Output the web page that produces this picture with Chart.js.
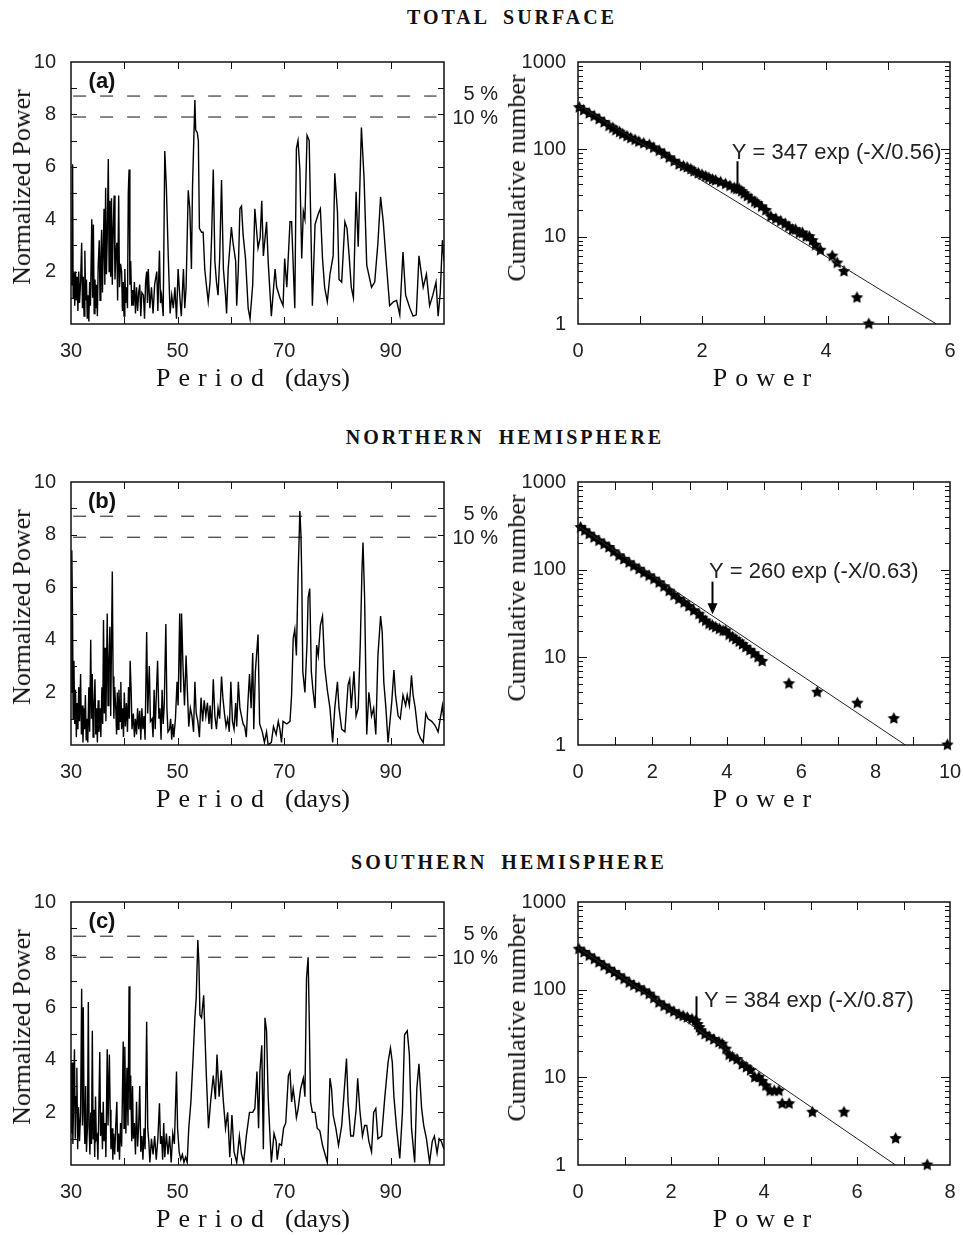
<!DOCTYPE html>
<html>
<head>
<meta charset="utf-8">
<script src="https://cdn.jsdelivr.net/npm/chart.js@4.4.0/dist/chart.umd.min.js"></script>
<style>
html, body { margin: 0; padding: 0; background: #fff; overflow: hidden; }
#page { position: relative; width: 963px; height: 1235px; overflow: hidden; background: #fff; }
canvas { position: absolute; }
.txt { position: absolute; white-space: nowrap; color: #111; transform: translate(-50%, -50%); }
.head { font: bold 20px 'Liberation Serif', 'Times New Roman', serif; letter-spacing: 3px; word-spacing: 6px; }
.ytit { font: 26px 'Liberation Serif', 'Times New Roman', serif; transform: translate(-50%, -50%) rotate(-90deg); }
.xtit { font: 26px 'Liberation Serif', 'Times New Roman', serif; }
.sp { letter-spacing: 8px; }
.tag { font: bold 22px 'Liberation Sans', Arial, sans-serif; }
</style>
</head>
<body>
<div id="page"></div>
<script>
// periodograms: [period (days), normalized power]
const specA = [[30.0,1.5],[30.15,2.4],[30.3,6.1],[30.4,1.0],[30.55,2.0],[30.7,0.7],[30.85,2.0],[31.0,0.9],[31.15,1.8],[31.3,0.5],[31.45,2.0],[31.6,0.8],[31.8,1.6],[32.0,3.1],[32.15,0.6],[32.3,1.8],[32.45,0.3],[32.6,2.8],[32.75,0.9],[32.9,1.7],[33.05,0.2],[33.2,1.1],[33.35,0.1],[33.5,1.6],[33.65,0.7],[33.9,4.0],[34.05,1.0],[34.2,3.8],[34.35,0.4],[34.5,1.7],[34.65,0.6],[34.8,1.5],[34.95,0.3],[35.1,2.2],[35.3,3.2],[35.45,0.9],[35.6,2.5],[35.75,3.6],[35.9,1.2],[36.05,2.8],[36.2,4.4],[36.35,1.5],[36.5,5.2],[36.65,1.9],[36.8,3.3],[37.0,6.3],[37.15,2.0],[37.3,4.7],[37.45,1.8],[37.6,4.8],[37.75,1.5],[37.9,3.5],[38.1,4.9],[38.25,1.7],[38.4,2.6],[38.6,3.1],[38.75,0.9],[38.95,4.9],[39.1,1.4],[39.3,2.3],[39.5,2.0],[39.65,0.5],[39.8,1.6],[39.95,0.3],[40.1,2.1],[40.25,0.8],[40.4,1.4],[40.6,0.6],[40.75,5.0],[40.9,5.9],[41.05,1.5],[41.2,2.4],[41.4,0.7],[41.55,1.3],[41.7,0.7],[41.9,1.6],[42.1,0.4],[42.3,1.4],[42.5,0.5],[42.7,1.2],[42.9,1.5],[43.1,0.3],[43.3,1.2],[43.6,1.1],[43.8,0.2],[44.0,1.6],[44.2,2.0],[44.35,0.8],[44.5,2.1],[44.8,0.6],[45.1,1.4],[45.4,0.4],[45.7,1.5],[46.1,2.0],[46.3,0.5],[46.6,2.8],[46.8,0.8],[47.0,1.1],[47.3,0.3],[47.6,6.6],[47.9,5.2],[48.25,2.6],[48.6,0.4],[48.9,1.1],[49.2,0.6],[49.5,1.4],[49.8,0.2],[50.1,2.1],[50.4,1.1],[50.7,0.3],[51.1,2.1],[51.35,0.6],[51.6,1.4],[52.0,5.1],[52.3,4.4],[52.6,2.1],[52.8,5.2],[53.25,8.55],[53.4,7.4],[53.7,7.3],[53.9,7.0],[54.1,3.65],[54.5,3.5],[54.8,3.5],[55.1,2.1],[55.4,1.5],[55.75,0.85],[56.1,1.6],[56.4,3.4],[56.7,5.9],[57.0,2.4],[57.3,1.6],[57.6,1.1],[57.9,2.5],[58.25,5.5],[58.6,2.1],[59.0,1.1],[59.2,0.4],[59.5,2.1],[59.8,2.9],[60.1,3.7],[60.4,3.1],[60.9,2.4],[61.1,0.7],[61.4,2.1],[61.7,4.4],[62.0,4.5],[62.3,3.4],[62.75,2.5],[63.25,0.6],[63.6,0.2],[64.1,1.5],[64.5,4.4],[65.1,2.9],[65.5,3.3],[65.8,4.7],[66.1,2.6],[66.7,3.9],[67.0,2.4],[67.6,0.3],[68.3,2.1],[68.6,1.4],[69.2,1.0],[69.8,0.7],[70.1,2.5],[70.5,1.4],[71.1,3.9],[71.4,3.9],[72.0,0.6],[72.3,6.7],[72.6,7.0],[72.95,5.9],[73.3,2.5],[73.6,4.3],[73.9,4.0],[74.3,7.2],[74.7,7.0],[74.95,4.4],[75.3,0.7],[75.8,3.8],[76.4,4.2],[76.8,4.4],[77.2,2.5],[77.6,1.4],[78.1,0.85],[78.6,1.9],[79.2,2.6],[79.5,5.75],[80.0,4.3],[80.3,1.7],[80.8,1.6],[81.4,3.9],[81.8,3.65],[82.2,2.6],[82.6,1.4],[83.0,1.0],[83.5,5.05],[83.9,2.95],[84.5,7.5],[85.0,5.55],[85.5,2.25],[86.4,1.4],[87.0,1.6],[87.6,3.1],[88.1,4.85],[88.6,3.9],[89.2,2.25],[89.8,0.7],[90.5,0.85],[91.1,0.9],[91.7,0.35],[92.3,2.75],[92.8,1.1],[93.6,0.6],[94.2,0.3],[94.8,0.35],[95.3,2.6],[96.1,1.4],[96.7,1.9],[97.3,0.7],[97.9,1.1],[98.5,1.6],[98.9,0.3],[99.3,1.2],[99.7,3.2],[100,2.4]];

const specB = [[30.0,2.0],[30.15,7.4],[30.3,4.7],[30.4,1.0],[30.55,3.2],[30.7,0.8],[30.85,2.1],[31.0,0.3],[31.15,1.6],[31.3,0.6],[31.45,2.2],[31.6,0.9],[31.8,2.7],[31.95,0.4],[32.1,1.5],[32.25,0.1],[32.4,1.4],[32.55,0.6],[32.7,1.9],[32.85,0.2],[33.0,1.0],[33.15,0.1],[33.35,2.2],[33.5,0.5],[33.7,4.0],[33.85,1.0],[34.0,2.7],[34.15,0.3],[34.3,1.4],[34.5,2.5],[34.65,0.4],[34.8,1.4],[34.95,0.1],[35.1,1.7],[35.25,0.5],[35.45,1.4],[35.6,0.3],[35.8,2.2],[35.95,0.8],[36.1,4.75],[36.25,1.2],[36.4,3.7],[36.55,0.9],[36.8,5.0],[36.95,1.5],[37.1,3.0],[37.3,4.5],[37.45,1.1],[37.75,6.6],[37.9,2.6],[38.05,1.0],[38.2,2.2],[38.4,1.4],[38.55,0.4],[38.7,2.0],[38.85,0.6],[39.0,2.1],[39.2,0.9],[39.35,2.4],[39.5,0.6],[39.7,1.4],[39.85,0.3],[40.0,2.0],[40.2,0.7],[40.4,1.6],[40.6,0.5],[40.8,2.2],[40.95,1.0],[41.1,3.2],[41.3,2.0],[41.45,0.6],[41.7,1.2],[41.9,0.3],[42.1,1.0],[42.3,0.4],[42.5,1.4],[42.7,0.6],[42.9,1.3],[43.1,0.2],[43.3,1.4],[43.5,0.6],[43.7,1.1],[43.9,0.2],[44.2,4.3],[44.4,1.2],[44.7,3.0],[44.9,0.9],[45.2,1.0],[45.4,0.3],[45.6,2.1],[45.8,0.6],[46.0,1.8],[46.25,3.2],[46.5,1.0],[46.7,1.4],[46.9,0.2],[47.1,2.1],[47.3,0.8],[47.5,1.5],[47.8,4.6],[48.0,1.4],[48.2,0.5],[48.5,0.6],[48.7,1.0],[48.9,0.2],[49.1,0.8],[49.3,0.3],[49.6,1.0],[49.9,2.4],[50.1,1.5],[50.4,5.0],[50.6,2.0],[50.75,5.0],[51.0,3.1],[51.3,1.5],[51.6,3.4],[51.85,2.0],[52.1,0.7],[52.4,1.4],[52.7,1.1],[53.0,0.5],[53.25,2.4],[53.5,1.2],[53.8,0.9],[54.1,0.3],[54.4,1.8],[54.7,0.9],[55.0,1.7],[55.3,1.1],[55.6,1.6],[55.9,0.8],[56.1,1.5],[56.4,0.6],[56.7,2.5],[57.0,1.1],[57.3,0.6],[57.6,1.4],[57.9,1.0],[58.25,2.6],[58.5,1.8],[58.8,1.2],[59.1,0.7],[59.4,1.0],[59.7,0.5],[60.0,2.4],[60.3,0.9],[60.6,0.6],[60.9,1.6],[61.1,0.7],[61.4,2.4],[61.7,1.4],[62.0,1.1],[62.3,0.8],[62.6,0.7],[62.9,0.3],[63.2,1.6],[63.5,2.7],[63.8,1.4],[64.1,3.5],[64.3,0.6],[64.6,2.8],[65.1,4.2],[65.4,0.8],[65.9,0.5],[66.3,0.1],[66.7,0.5],[67.0,0.0],[67.6,0.1],[68.0,0.7],[68.5,0.4],[68.9,0.9],[69.2,0.6],[69.5,0.1],[69.8,0.9],[70.5,0.8],[71.1,0.9],[71.4,1.9],[71.7,4.05],[72.0,4.4],[72.3,3.4],[72.6,6.3],[72.95,8.9],[73.15,8.0],[73.3,6.5],[73.5,2.8],[73.9,2.0],[74.3,3.9],[74.5,5.6],[74.8,5.95],[75.1,2.8],[75.4,2.1],[75.8,1.4],[76.1,3.8],[76.4,3.4],[76.8,4.55],[77.2,4.9],[77.6,3.0],[78.1,2.1],[78.6,1.4],[79.1,0.1],[79.5,1.4],[80.0,2.4],[80.3,1.4],[80.8,0.6],[81.4,0.5],[82.0,2.3],[82.3,2.5],[82.6,1.4],[83.1,2.8],[83.5,1.1],[83.9,1.4],[84.3,3.9],[84.6,6.6],[84.8,7.7],[85.1,5.6],[85.5,0.4],[85.9,2.0],[86.4,1.1],[86.8,1.4],[87.2,0.4],[87.6,3.4],[88.1,4.9],[88.4,4.3],[88.7,2.4],[89.1,1.4],[89.5,0.1],[90.2,1.65],[90.6,2.85],[90.9,1.9],[91.4,1.1],[91.8,1.0],[92.3,1.9],[92.8,1.5],[93.1,1.9],[93.5,1.5],[93.9,2.65],[94.2,1.9],[94.6,1.4],[95.1,0.5],[95.6,0.25],[96.1,0.1],[96.6,1.2],[97.0,1.0],[97.7,0.9],[98.3,0.75],[98.9,0.5],[99.3,1.0],[99.7,1.5],[100,0.9]];

const specC = [[30.0,3.9],[30.1,1.2],[30.2,3.9],[30.35,0.8],[30.5,2.6],[30.65,4.4],[30.8,1.0],[30.95,2.6],[31.1,3.7],[31.25,0.6],[31.4,2.2],[31.6,0.9],[31.8,2.0],[32.0,6.7],[32.15,1.5],[32.3,6.0],[32.45,2.0],[32.6,0.8],[32.75,3.0],[32.9,0.5],[33.1,1.5],[33.25,6.2],[33.4,1.4],[33.55,0.4],[33.7,2.0],[33.85,0.8],[34.0,5.1],[34.15,1.0],[34.3,2.1],[34.45,0.3],[34.6,2.6],[34.75,1.0],[34.9,1.1],[35.05,0.2],[35.2,1.8],[35.4,4.3],[35.55,1.1],[35.75,2.0],[35.9,0.6],[36.05,2.4],[36.2,0.9],[36.4,1.6],[36.55,0.3],[36.8,4.4],[36.95,1.5],[37.2,4.2],[37.35,2.1],[37.5,0.6],[37.7,1.4],[37.85,0.2],[38.0,1.2],[38.2,0.4],[38.4,1.5],[38.6,2.4],[38.75,0.5],[38.95,1.2],[39.1,0.2],[39.3,1.6],[39.5,0.7],[39.8,4.7],[39.95,1.4],[40.1,4.5],[40.3,1.2],[40.5,3.7],[40.7,1.5],[40.9,6.8],[41.05,2.1],[41.2,3.4],[41.4,0.9],[41.55,3.0],[41.7,1.0],[41.9,1.6],[42.1,0.4],[42.3,2.4],[42.5,0.7],[42.7,1.5],[42.9,3.0],[43.1,0.5],[43.3,1.1],[43.5,0.2],[43.7,1.4],[43.9,0.6],[44.2,5.45],[44.4,1.4],[44.6,0.9],[44.8,0.1],[45.1,1.0],[45.4,0.4],[45.7,1.1],[46.0,0.2],[46.3,1.0],[46.6,2.35],[46.8,0.8],[47.0,1.1],[47.2,0.2],[47.4,1.6],[47.6,0.3],[47.9,1.2],[48.2,0.4],[48.5,1.1],[48.8,0.1],[49.1,1.2],[49.4,0.8],[49.8,3.55],[50.0,1.4],[50.3,0.5],[50.6,0.2],[50.9,0.4],[51.2,0.1],[51.5,0.3],[51.8,0.1],[52.1,1.4],[52.5,2.4],[52.9,4.0],[53.25,5.6],[53.5,6.35],[53.8,8.55],[54.0,7.7],[54.2,5.7],[54.5,5.6],[54.9,6.45],[55.1,5.2],[55.4,3.4],[55.8,1.4],[56.2,2.4],[56.7,3.4],[57.1,2.5],[57.4,4.2],[57.8,2.6],[58.2,3.6],[58.6,2.4],[59.0,1.4],[59.4,2.0],[59.8,0.3],[60.2,1.9],[60.6,0.5],[61.1,0.1],[61.6,1.1],[62.0,0.4],[62.4,0.1],[62.9,1.1],[63.5,2.0],[64.1,2.0],[64.5,2.15],[64.9,3.55],[65.2,1.4],[65.45,3.55],[65.8,4.55],[66.1,0.6],[66.4,5.6],[66.7,5.1],[67.0,2.6],[67.3,1.3],[67.6,0.1],[68.1,1.2],[68.5,0.9],[68.7,0.2],[69.1,0.8],[69.5,0.75],[69.9,1.4],[70.3,1.6],[70.8,3.4],[71.1,3.55],[71.4,2.4],[71.7,2.9],[72.0,2.4],[72.3,1.8],[72.6,2.1],[73.1,2.9],[73.6,3.3],[73.9,2.6],[74.2,7.1],[74.5,7.9],[74.7,5.7],[74.95,2.4],[75.3,2.0],[75.8,2.0],[76.2,1.4],[76.7,1.3],[77.2,0.75],[78.1,0.1],[78.6,3.3],[78.9,2.9],[79.2,1.9],[79.7,1.4],[80.2,0.75],[80.8,1.5],[81.2,2.6],[81.7,4.05],[82.0,2.4],[82.5,1.1],[83.0,1.1],[83.5,2.1],[83.8,3.3],[84.2,2.1],[84.7,1.1],[85.1,1.5],[85.5,1.5],[85.9,0.9],[86.4,0.5],[86.8,2.0],[87.2,2.15],[87.6,1.0],[88.3,1.1],[88.9,2.6],[89.5,3.9],[89.95,4.45],[90.3,3.9],[90.6,2.6],[91.1,1.4],[91.7,0.25],[92.2,2.0],[92.6,4.95],[93.1,5.1],[93.5,4.2],[93.9,1.4],[94.5,0.1],[94.9,2.9],[95.3,3.85],[95.8,2.15],[96.2,1.5],[96.7,1.0],[97.3,0.1],[97.8,0.9],[98.2,1.1],[98.7,0.45],[99.1,1.0],[99.5,0.9],[100,0.6]];

// significance levels
const sigLevels = [8.7, 7.9];
const sigLabels = ['5 %', '10 %'];
const sigSpan = [30.4, 98.6];

// cumulative distributions: [power, cumulative number]
const starsA = [[0.02,301],[0.09,280],[0.18,257],[0.26,240],[0.34,221],[0.42,203],[0.50,185],[0.56,175],[0.61,165],[0.67,157],[0.72,149],[0.79,141],[0.85,134],[0.92,128],[0.98,122],[1.06,117],[1.15,112],[1.22,104],[1.31,96],[1.39,88],[1.47,80],[1.55,73],[1.63,67],[1.70,64],[1.76,62],[1.82,59],[1.87,56],[1.94,53],[2.00,51],[2.06,49],[2.11,47],[2.17,45],[2.22,44],[2.30,42],[2.38,40],[2.45,38],[2.52,36],[2.56,35],[2.60,35],[2.64,33],[2.68,31],[2.73,29],[2.79,27],[2.85,25],[2.89,24],[2.96,22],[3.03,20],[3.11,17],[3.19,16],[3.27,15],[3.34,14],[3.40,13],[3.46,12],[3.51,12],[3.57,11],[3.62,11],[3.68,10],[3.73,10],[3.78,9],[3.83,8],[3.91,7],[4.10,6],[4.18,5],[4.29,4],[4.50,2],[4.69,1]];
const starsB = [[0.07,303],[0.18,278],[0.30,254],[0.43,232],[0.56,213],[0.70,195],[0.83,179],[0.96,160],[1.10,144],[1.23,131],[1.37,120],[1.50,110],[1.64,101],[1.77,92],[1.91,85],[2.04,78],[2.18,71],[2.31,64],[2.45,57],[2.58,51],[2.71,46],[2.85,42],[2.98,38],[3.11,34],[3.25,31],[3.34,28],[3.43,26],[3.52,24],[3.61,23],[3.70,22],[3.80,21],[3.90,20],[3.97,20],[4.06,18],[4.15,17],[4.24,16],[4.33,15],[4.42,14],[4.51,13],[4.62,12],[4.73,11],[4.84,10],[4.95,9],[5.67,5],[6.43,4],[7.51,3],[8.49,2],[9.93,1]];
const starsC = [[0.02,290],[0.13,266],[0.24,243],[0.35,223],[0.45,204],[0.56,187],[0.67,171],[0.78,157],[0.88,144],[0.99,132],[1.10,120],[1.20,112],[1.31,105],[1.42,97],[1.53,89],[1.63,80],[1.74,71],[1.85,65],[1.96,60],[2.06,56],[2.17,52],[2.26,50],[2.35,48],[2.45,46],[2.53,44],[2.57,40],[2.61,37],[2.64,34],[2.73,31],[2.82,29],[2.92,27],[3.03,25],[3.10,24],[3.18,21],[3.25,18],[3.32,17],[3.42,16],[3.53,14],[3.62,13],[3.71,12],[3.80,10],[3.89,10],[3.96,9],[4.04,8],[4.13,7],[4.22,7],[4.32,7],[4.39,5],[4.54,5],[5.04,4],[5.72,4],[6.83,2],[7.51,1]];

// exponential fits (end points of the drawn line)
const fitA = [[0, 325], [5.78, 1]];
const fitB = [[0, 316], [8.8, 1]];
const fitC = [[0, 305], [6.83, 1]];
const fitText = ['Y = 347 exp (-X/0.56)', 'Y = 260 exp (-X/0.63)', 'Y = 384 exp (-X/0.87)'];

// ticks
const periodLabels = [30, 50, 70, 90];
const periodMarks = [40, 50, 60, 70, 80, 90];
const normLabels = [2, 4, 6, 8, 10];
const normMarks = [1, 2, 3, 4, 5, 6, 7, 8, 9];
const logLabels = [1, 10, 100, 1000];
const logMarks = [10, 100];
const logMinor = [2, 3, 4, 5, 6, 7, 8, 9, 20, 30, 40, 50, 60, 70, 80, 90, 200, 300, 400, 500, 600, 700, 800, 900];
const powerMax = [6, 10, 8];
const powerLabels = [[0, 2, 4, 6], [0, 2, 4, 6, 8, 10], [0, 2, 4, 6, 8]];
const powerMarks = [[1, 2, 3, 4, 5], [1, 2, 3, 4, 5, 6, 7, 8, 9], [1, 2, 3, 4, 5, 6, 7]];

const rowTop = [62, 482, 902];
const rowBottom = [324, 745, 1165];

const tickFont = { family: "'Liberation Sans', Arial, sans-serif", size: 20 };
const page = document.getElementById('page');

function addText(html, x, y, cls) {
  const d = document.createElement('div');
  d.className = 'txt ' + cls;
  d.innerHTML = html;
  d.style.left = x + 'px';
  d.style.top = y + 'px';
  page.appendChild(d);
}

function makeCanvas(left, top, w, h) {
  const c = document.createElement('canvas');
  c.width = w; c.height = h;
  c.style.left = left + 'px'; c.style.top = top + 'px';
  c.style.width = w + 'px'; c.style.height = h + 'px';
  page.appendChild(c);
  return c;
}

function makeStar(r) {
  const c = document.createElement('canvas');
  const s = Math.ceil(r * 2 + 2);
  c.width = s; c.height = s;
  const g = c.getContext('2d');
  g.fillStyle = '#000';
  g.beginPath();
  for (let i = 0; i < 10; i++) {
    const ang = -Math.PI / 2 + i * Math.PI / 5;
    const rr = i % 2 ? r * 0.5 : r;
    g.lineTo(s / 2 + rr * Math.cos(ang), s / 2 + rr * Math.sin(ang));
  }
  g.closePath();
  g.fill();
  return c;
}
const starImg = makeStar(6.5);

// box, inward ticks and texts drawn from the chart scales
const framePlugin = {
  id: 'frame',
  afterDatasetsDraw(chart, args, o) {
    const ctx = chart.ctx, a = chart.chartArea, sx = chart.scales.x, sy = chart.scales.y;
    ctx.save();
    ctx.strokeStyle = '#111';
    ctx.lineWidth = 1.5;
    ctx.strokeRect(a.left, a.top, a.right - a.left, a.bottom - a.top);
    ctx.lineWidth = 1;
    ctx.beginPath();
    const tick = (vals, len, axis) => vals.forEach(v => {
      if (axis === 'x') {
        const p = Math.round(sx.getPixelForValue(v)) + 0.5;
        ctx.moveTo(p, a.bottom); ctx.lineTo(p, a.bottom - len);
        ctx.moveTo(p, a.top); ctx.lineTo(p, a.top + len);
      } else {
        const p = Math.round(sy.getPixelForValue(v)) + 0.5;
        ctx.moveTo(a.left, p); ctx.lineTo(a.left + len, p);
        ctx.moveTo(a.right, p); ctx.lineTo(a.right - len, p);
      }
    });
    tick(o.xMarks, o.xLen, 'x');
    tick(o.yMarks, o.yLen, 'y');
    if (o.yMinor) tick(o.yMinor, o.minorLen, 'y');
    ctx.stroke();
    ctx.fillStyle = '#222';
    ctx.textBaseline = 'middle';
    (o.labels || []).forEach(l => {
      ctx.font = l.font;
      ctx.textAlign = l.align || 'left';
      const px = l.px != null ? l.px : sx.getPixelForValue(l.x);
      ctx.fillText(l.text, px, sy.getPixelForValue(l.y));
    });
    (o.arrows || []).forEach(r => {
      const px = Math.round(sx.getPixelForValue(r.x)) + 0.5;
      const y1 = sy.getPixelForValue(r.from), y2 = sy.getPixelForValue(r.to);
      ctx.strokeStyle = '#000';
      ctx.fillStyle = '#000';
      ctx.lineWidth = 2;
      ctx.beginPath(); ctx.moveTo(px, y1); ctx.lineTo(px, y2 - (r.head ? 8 : 0)); ctx.stroke();
      if (r.head) {
        ctx.beginPath(); ctx.moveTo(px - 5, y2 - 11); ctx.lineTo(px + 5, y2 - 11); ctx.lineTo(px, y2);
        ctx.closePath(); ctx.fill();
      }
    });
    ctx.restore();
  }
};

function noPad(s) { s.paddingLeft = 0; s.paddingRight = 0; s.paddingTop = 0; s.paddingBottom = 0; }

function axis(pad, extra) {
  return Object.assign({
    grid: { display: false, drawTicks: false },
    border: { display: false },
    ticks: { font: tickFont, color: '#222', padding: pad, autoSkip: false, maxRotation: 0, callback: v => String(v) }
  }, extra);
}

function leftChart(row, spec, tag) {
  const top = rowTop[row] - 20, h = rowBottom[row] - rowTop[row] + 70;
  const c = makeCanvas(0, top, 500, h);
  const datasets = [{
    data: spec.map(p => ({ x: p[0], y: p[1] })),
    borderColor: '#000', borderWidth: 1.4, pointRadius: 0, tension: 0
  }];
  sigLevels.forEach(v => datasets.push({
    data: sigSpan.map(x => ({ x: x, y: v })),
    borderColor: '#111', borderWidth: 1, borderDash: [13, 14], pointRadius: 0
  }));
  new Chart(c, {
    type: 'line',
    data: { datasets },
    plugins: [framePlugin],
    options: {
      animation: false, responsive: false, events: [],
      layout: { padding: { left: 0, right: 56, top: 20, bottom: 0 } },
      plugins: {
        legend: { display: false }, tooltip: { enabled: false },
        frame: {
          xMarks: periodMarks, xLen: 7, yMarks: normMarks, yLen: 6,
          labels: sigLevels.map((v, i) => ({
            text: sigLabels[i], px: 498, y: v + (i ? -0.05 : 0.05), align: 'right',
            font: "20px 'Liberation Sans', Arial, sans-serif"
          }))
        }
      },
      scales: {
        x: axis(15, {
          type: 'linear', min: 30, max: 100,
          afterBuildTicks: s => { s.ticks = periodLabels.map(v => ({ value: v })); },
          afterFit: s => { s.height = 50; noPad(s); }
        }),
        y: axis(15, {
          type: 'linear', min: 0, max: 10,
          afterBuildTicks: s => { s.ticks = normLabels.map(v => ({ value: v })); },
          afterFit: s => { s.width = 71; noPad(s); }
        })
      }
    }
  });
  addText(tag, 102, rowTop[row] + 19, 'tag');
  addText('Normalized Power', 22, rowTop[row] + 125, 'ytit');
  addText('<span class="sp">Period</span>&nbsp;&nbsp;(days)', 253, rowBottom[row] + 54, 'xtit');
}

function rightChart(row, stars, fit, note) {
  const top = rowTop[row] - 20, h = rowBottom[row] - rowTop[row] + 70;
  const c = makeCanvas(500, top, 480, h);
  new Chart(c, {
    type: 'line',
    data: {
      datasets: [
        { data: fit.map(p => ({ x: p[0], y: p[1] })), borderColor: '#222', borderWidth: 1, pointRadius: 0 },
        { data: stars.map(p => ({ x: p[0], y: p[1] })), showLine: false, pointStyle: starImg, pointRadius: 5, clip: false }
      ]
    },
    plugins: [framePlugin],
    options: {
      animation: false, responsive: false, events: [],
      layout: { padding: { left: 0, right: 30, top: 20, bottom: 0 } },
      plugins: {
        legend: { display: false }, tooltip: { enabled: false },
        frame: {
          xMarks: powerMarks[row], xLen: 8, yMarks: logMarks, yLen: 9, yMinor: logMinor, minorLen: 5,
          labels: [{ text: fitText[row], x: note.x, y: note.y, font: "22px 'Liberation Sans', Arial, sans-serif" }],
          arrows: [{ x: note.ax, from: note.from, to: note.to, head: note.head }]
        }
      },
      scales: {
        x: axis(15, {
          type: 'linear', min: 0, max: powerMax[row],
          afterBuildTicks: s => { s.ticks = powerLabels[row].map(v => ({ value: v })); },
          afterFit: s => { s.height = 50; noPad(s); }
        }),
        y: axis(12, {
          type: 'logarithmic', min: 1, max: 1000,
          afterBuildTicks: s => { s.ticks = logLabels.map(v => ({ value: v })); },
          afterFit: s => { s.width = 78; noPad(s); }
        })
      }
    }
  });
  addText('Cumulative number', 517, rowTop[row] + 116, 'ytit');
  addText('<span class="sp">Power</span>', 766, rowBottom[row] + 54, 'xtit');
}

addText('TOTAL SURFACE', 512, 17, 'head');
addText('NORTHERN HEMISPHERE', 505, 437, 'head');
addText('SOUTHERN HEMISPHERE', 509, 862, 'head');

leftChart(0, specA, '(a)');
leftChart(1, specB, '(b)');
leftChart(2, specC, '(c)');

rightChart(0, starsA, fitA, { x: 2.48, y: 92, ax: 2.56, from: 73, to: 38, head: false });
rightChart(1, starsB, fitB, { x: 3.52, y: 95, ax: 3.60, from: 73, to: 31, head: true });
rightChart(2, starsC, fitC, { x: 2.71, y: 75, ax: 2.54, from: 84, to: 43, head: false });
</script>
</body>
</html>
